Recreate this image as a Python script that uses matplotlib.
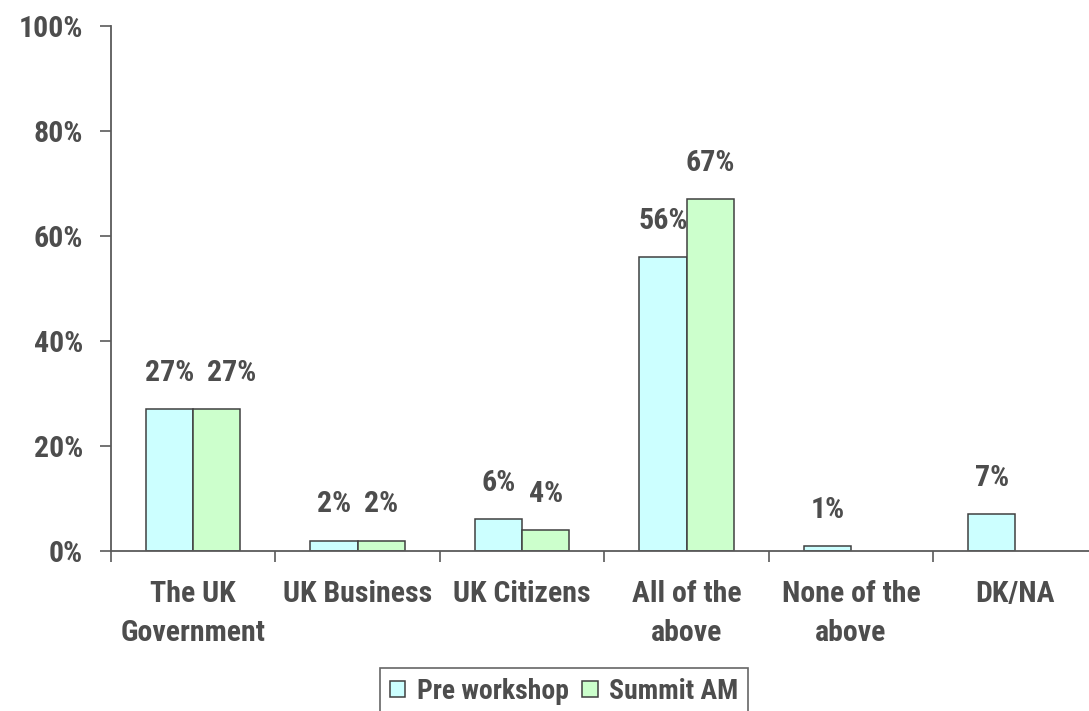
import matplotlib
matplotlib.use("Agg")
import matplotlib.pyplot as plt
from matplotlib import font_manager
import numpy as np

categories = ["The UK\nGovernment", "UK Business", "UK Citizens",
              "All of the\nabove", "None of the\nabove", "DK/NA"]
pre_workshop = [27, 2, 6, 56, 1, 7]
summit_am = [27, 2, 4, 67, np.nan, np.nan]
series_names = ["Pre workshop", "Summit AM"]
y_ticks = [0, 20, 40, 60, 80, 100]

# prefer a narrow face, otherwise shrink the regular one
installed = {f.name for f in font_manager.fontManager.ttflist}
narrow = [n for n in ("Liberation Sans Narrow", "Arial Narrow", "Roboto Condensed",
                      "Open Sans Condensed", "Nimbus Sans Narrow") if n in installed]
if narrow:
    family, size = narrow[0], 21.5
else:
    family, size = "Liberation Sans", 17.5

text_col = "#4d4d4d"
axis_col = "#5a5a5a"
plt.rcParams["font.family"] = [family, "DejaVu Sans"]
plt.rcParams["font.weight"] = "bold"
plt.rcParams["font.size"] = size
plt.rcParams["text.color"] = text_col

fig = plt.figure(figsize=(10.89, 7.11), dpi=100)
ax = fig.add_axes([0.1019, 0.225, 0.906, 0.739])

x = np.arange(len(categories))
w = 0.287
b1 = ax.bar(x - w / 2, pre_workshop, w, color="#ccffff", edgecolor="#404040",
            linewidth=1.1, label=series_names[0])
b2 = ax.bar(x + w / 2, summit_am, w, color="#ccffcc", edgecolor="#404040",
            linewidth=1.1, label=series_names[1])

for k, (bars, vals) in enumerate(((b1, pre_workshop), (b2, summit_am))):
    for i, (rect, v) in enumerate(zip(bars, vals)):
        if np.isnan(v):
            continue
        # push the second label aside when both bars have the same height
        dx = 11 if k == 1 and v == pre_workshop[i] and v > 10 else 0
        ax.annotate(f"{v:.0f}%", (rect.get_x() + rect.get_width() / 2, v),
                    xytext=(dx, 26), textcoords="offset points",
                    ha="center", va="center", color=text_col, fontweight="bold")

ax.set_xlim(-0.5, len(categories) - 0.5)
ax.set_ylim(0, 100)
ax.set_yticks(y_ticks)
ax.set_yticklabels([f"{t}%" for t in y_ticks])

# category labels centred, tick marks on the boundaries
ax.set_xticks(x)
ax.set_xticklabels(categories, linespacing=1.5, va="top")
ax.set_xticks(np.arange(len(categories) + 1) - 0.5, minor=True)
ax.tick_params(axis="x", which="major", length=0, pad=21, colors=text_col)
ax.tick_params(axis="x", which="minor", length=8, width=1.2, color=axis_col, direction="out")
ax.tick_params(axis="y", length=8, width=1.2, color=axis_col, labelcolor=text_col, pad=12)

for side in ("top", "right"):
    ax.spines[side].set_visible(False)
for side in ("left", "bottom"):
    ax.spines[side].set_color(axis_col)
    ax.spines[side].set_linewidth(1.3)

leg = fig.legend(loc="upper center", bbox_to_anchor=(0.518, 0.0605), ncol=2,
                 frameon=True, fancybox=False, edgecolor="#404040", borderaxespad=0,
                 fontsize=20, handlelength=0.55, handleheight=0.55, handletextpad=0.42,
                 columnspacing=0.5, borderpad=0.35)
leg.get_frame().set_linewidth(1.2)
for t in leg.get_texts():
    t.set_color(text_col)

fig.savefig("out.png", dpi=100)
